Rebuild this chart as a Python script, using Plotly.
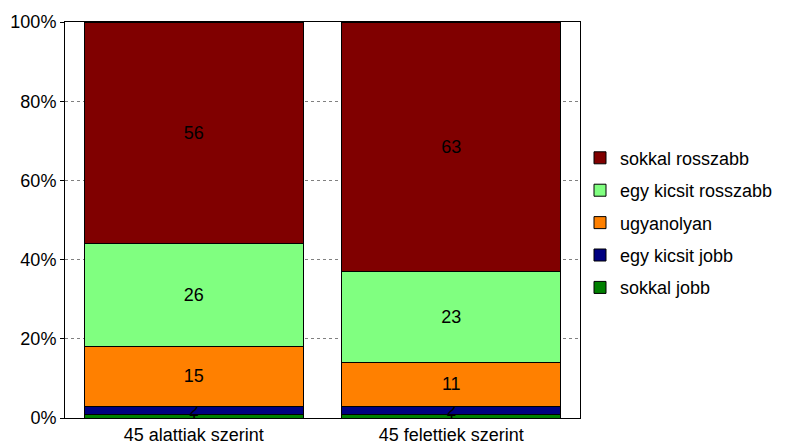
import plotly.graph_objects as go

categories = ["45 alattiak szerint", "45 felettiek szerint"]
series_names = ["sokkal jobb", "egy kicsit jobb", "ugyanolyan", "egy kicsit rosszabb", "sokkal rosszabb"]
sokkal_jobb = [1, 1]
egy_kicsit_jobb = [2, 2]
ugyanolyan = [15, 11]
egy_kicsit_rosszabb = [26, 23]
sokkal_rosszabb = [56, 63]
colors = ["#008000", "#000080", "#FF8000", "#80FF80", "#800000"]
tick_vals = [0, 20, 40, 60, 80, 100]
tick_text = ["0%", "20%", "40%", "60%", "80%", "100%"]

values = [sokkal_jobb, egy_kicsit_jobb, ugyanolyan, egy_kicsit_rosszabb, sokkal_rosszabb]
FONT = "Arial, Liberation Sans, sans-serif"

fig = go.Figure()
for i, (name, vals, col) in enumerate(zip(series_names, values, colors)):
    fig.add_trace(go.Bar(
        x=categories, y=vals, name=name,
        marker=dict(color=col, line=dict(color="black", width=1)),
        text=[str(v) for v in vals],
        textposition="inside", insidetextanchor="middle", textangle=0,
        textfont=dict(color="black", size=18, family=FONT),
        legendgroup=name, legendrank=100 - i,
        constraintext="none",
    ))

fig.update_layout(
    barmode="stack",
    bargap=0.15,
    width=786, height=446,
    margin=dict(l=65, r=206, t=22, b=28, autoexpand=False),
    plot_bgcolor="white", paper_bgcolor="white",
    font=dict(family=FONT, size=18, color="black"),
    uniformtext=dict(minsize=18, mode="show"),
    showlegend=True,
    legend=dict(x=1.0, y=0.703, xanchor="left", yanchor="top",
                traceorder="grouped", tracegroupgap=6,
                bgcolor="rgba(0,0,0,0)",
                font=dict(size=18, family=FONT),
                itemwidth=30),
    xaxis=dict(showline=True, linecolor="black", linewidth=1, mirror=True,
               ticks="", tickfont=dict(size=18), automargin=False),
    yaxis=dict(range=[0, 100], tickvals=tick_vals, ticktext=tick_text,
               showline=True, linecolor="black", linewidth=1, mirror=True,
               ticks="outside", ticklen=4, tickcolor="black",
               showgrid=True, gridcolor="#808080", griddash="dot", gridwidth=1,
               tickfont=dict(size=18), zeroline=False, automargin=False),
)

fig.write_html("out.html")
